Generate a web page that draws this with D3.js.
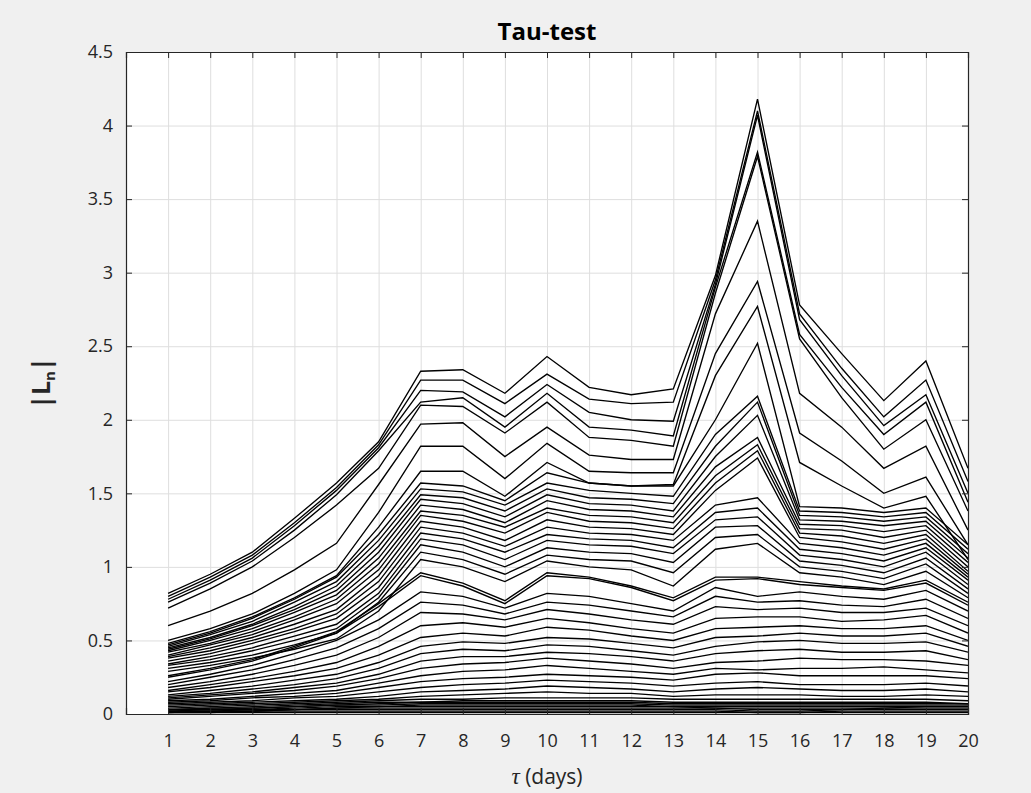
<!DOCTYPE html>
<html>
<head>
<meta charset="utf-8">
<script src="https://cdn.jsdelivr.net/npm/d3@7/dist/d3.min.js"></script>
<style>
  body { margin: 0; background: #f0f0f0; }
  svg { display: block; }
  .tick text { font-family: "Open Sans", sans-serif; font-size: 18px; fill: #262626; }
  .frame .domain, .frame line { stroke: #262626; }
  .grid line { stroke: #dedede; }
  .grid .domain { display: none; }
</style>
</head>
<body>
<div id="chart"></div>
<script>
// tau (days) and y tick values
var taus = [1, 2, 3, 4, 5, 6, 7, 8, 9, 10, 11, 12, 13, 14, 15, 16, 17, 18, 19, 20];
var yTicks = [0, 0.5, 1, 1.5, 2, 2.5, 3, 3.5, 4, 4.5];

// |Ln| curves, one row per curve (values at tau = 1..20)
// top bundle, the ones that reach ~4 at tau 15
var topLines = [
  [0.82,0.95,1.10,1.33,1.57,1.85,2.33,2.34,2.18,2.43,2.22,2.17,2.21,2.98,4.18,2.78,2.45,2.13,2.40,1.67],
  [0.80,0.93,1.08,1.30,1.54,1.83,2.27,2.27,2.11,2.31,2.14,2.11,2.12,2.95,4.10,2.72,2.35,2.02,2.27,1.58],
  [0.78,0.91,1.06,1.28,1.52,1.81,2.20,2.19,2.02,2.24,2.05,2.00,1.99,2.92,4.07,2.68,2.30,1.96,2.17,1.50],
  [0.76,0.89,1.04,1.25,1.49,1.79,2.12,2.15,1.95,2.18,1.95,1.93,1.89,2.90,3.82,2.58,2.22,1.90,2.12,1.44],
  [0.72,0.85,1.00,1.20,1.42,1.67,2.10,2.09,1.91,2.12,1.88,1.86,1.82,2.86,3.79,2.55,2.15,1.80,2.00,1.38]
];

// second bundle, peaks 2.8 - 3.4
var peakLines = [
  [0.60,0.70,0.82,0.98,1.16,1.56,1.97,1.98,1.75,1.95,1.76,1.73,1.73,2.72,3.35,2.18,1.95,1.67,1.82,1.25],
  [0.50,0.58,0.68,0.82,0.98,1.37,1.82,1.82,1.60,1.84,1.65,1.64,1.64,2.45,2.94,1.91,1.72,1.50,1.61,1.15],
  [0.48,0.56,0.66,0.79,0.94,1.27,1.65,1.65,1.48,1.71,1.57,1.55,1.56,2.30,2.77,1.71,1.55,1.40,1.48,1.05]
];

// dense middle band
var midLines = [
  [0.47,0.55,0.65,0.78,0.93,1.22,1.57,1.55,1.45,1.64,1.57,1.55,1.55,2.00,2.52,1.41,1.40,1.37,1.40,1.15],
  [0.46,0.54,0.63,0.76,0.90,1.18,1.53,1.51,1.42,1.57,1.52,1.50,1.48,1.90,2.16,1.38,1.37,1.34,1.37,1.12],
  [0.45,0.52,0.61,0.73,0.87,1.14,1.49,1.47,1.38,1.53,1.47,1.46,1.43,1.82,2.12,1.35,1.34,1.31,1.34,1.09],
  [0.44,0.51,0.60,0.71,0.84,1.10,1.46,1.43,1.34,1.49,1.43,1.42,1.38,1.75,2.03,1.32,1.31,1.28,1.31,1.06],
  [0.43,0.50,0.58,0.69,0.81,1.06,1.42,1.39,1.30,1.45,1.39,1.38,1.34,1.68,1.88,1.29,1.28,1.24,1.28,1.03],
  [0.42,0.48,0.56,0.66,0.78,1.02,1.38,1.35,1.27,1.40,1.35,1.34,1.30,1.62,1.83,1.26,1.25,1.20,1.25,1.00],
  [0.40,0.47,0.54,0.64,0.75,0.98,1.35,1.31,1.23,1.37,1.31,1.30,1.26,1.57,1.79,1.23,1.21,1.16,1.22,0.97],
  [0.39,0.45,0.52,0.61,0.71,0.94,1.31,1.27,1.18,1.32,1.27,1.26,1.22,1.52,1.74,1.20,1.17,1.12,1.19,0.95],
  [0.38,0.43,0.50,0.58,0.68,0.90,1.27,1.23,1.14,1.27,1.23,1.22,1.18,1.42,1.47,1.16,1.13,1.08,1.16,0.93],
  [0.36,0.41,0.48,0.56,0.65,0.86,1.23,1.19,1.10,1.22,1.19,1.18,1.13,1.37,1.40,1.12,1.09,1.04,1.13,0.91],
  [0.34,0.39,0.45,0.53,0.61,0.82,1.19,1.15,1.05,1.18,1.15,1.14,1.09,1.32,1.34,1.08,1.05,1.00,1.10,0.88],
  [0.33,0.37,0.43,0.50,0.58,0.79,1.15,1.10,1.00,1.13,1.10,1.09,1.03,1.27,1.28,1.04,1.01,0.96,1.06,0.85],
  [0.31,0.35,0.40,0.47,0.55,0.76,1.10,1.05,0.95,1.08,1.05,1.04,0.96,1.20,1.22,1.00,0.97,0.92,1.02,0.82],
  [0.29,0.33,0.38,0.44,0.51,0.70,1.05,1.00,0.90,1.04,1.00,0.98,0.87,1.12,1.16,0.96,0.93,0.88,0.97,0.79]
];

// the pair that shows up as one thick line near 0.9
var thickLines = [
  [0.26,0.31,0.37,0.46,0.56,0.75,0.96,0.89,0.77,0.96,0.93,0.87,0.79,0.93,0.93,0.90,0.87,0.85,0.91,0.76],
  [0.25,0.30,0.36,0.45,0.55,0.73,0.94,0.87,0.75,0.94,0.92,0.86,0.77,0.91,0.92,0.88,0.86,0.84,0.89,0.74]
];

// lower flatter curves
var lowLines = [
  [0.22,0.27,0.33,0.41,0.50,0.64,0.83,0.80,0.72,0.82,0.80,0.75,0.70,0.86,0.80,0.83,0.80,0.78,0.84,0.70],
  [0.20,0.25,0.30,0.37,0.45,0.58,0.76,0.74,0.68,0.76,0.74,0.70,0.66,0.80,0.76,0.77,0.74,0.73,0.78,0.65],
  [0.18,0.22,0.27,0.33,0.40,0.52,0.69,0.68,0.64,0.71,0.68,0.64,0.61,0.73,0.71,0.72,0.69,0.69,0.72,0.60],
  [0.16,0.20,0.24,0.29,0.35,0.46,0.60,0.62,0.59,0.65,0.62,0.58,0.55,0.65,0.66,0.66,0.63,0.64,0.67,0.55],
  [0.15,0.18,0.22,0.26,0.31,0.40,0.52,0.55,0.53,0.59,0.57,0.53,0.50,0.58,0.59,0.60,0.58,0.58,0.60,0.50],
  [0.13,0.16,0.19,0.23,0.27,0.35,0.46,0.49,0.48,0.52,0.51,0.48,0.45,0.52,0.53,0.55,0.53,0.53,0.55,0.46],
  [0.12,0.14,0.17,0.20,0.24,0.31,0.41,0.44,0.43,0.47,0.46,0.43,0.40,0.46,0.49,0.50,0.48,0.48,0.49,0.42],
  [0.11,0.13,0.15,0.18,0.21,0.27,0.36,0.39,0.39,0.42,0.41,0.39,0.36,0.41,0.43,0.44,0.42,0.42,0.43,0.37],
  [0.10,0.12,0.14,0.16,0.19,0.24,0.31,0.34,0.35,0.38,0.36,0.34,0.31,0.35,0.36,0.38,0.37,0.37,0.36,0.33],
  [0.09,0.10,0.12,0.14,0.16,0.21,0.26,0.29,0.30,0.33,0.31,0.29,0.27,0.31,0.30,0.31,0.31,0.32,0.30,0.28],
  [0.08,0.09,0.11,0.12,0.14,0.18,0.22,0.24,0.25,0.27,0.26,0.25,0.23,0.27,0.28,0.26,0.26,0.26,0.26,0.24],
  [0.07,0.08,0.09,0.11,0.12,0.15,0.18,0.20,0.21,0.23,0.22,0.21,0.19,0.21,0.22,0.20,0.20,0.20,0.21,0.19],
  [0.06,0.07,0.08,0.09,0.10,0.12,0.15,0.16,0.17,0.19,0.18,0.17,0.15,0.17,0.18,0.17,0.16,0.16,0.17,0.15],
  [0.05,0.06,0.07,0.08,0.09,0.10,0.12,0.13,0.14,0.15,0.14,0.14,0.12,0.13,0.13,0.13,0.12,0.12,0.13,0.12],
  [0.04,0.05,0.06,0.07,0.08,0.09,0.10,0.10,0.11,0.11,0.11,0.11,0.10,0.10,0.10,0.10,0.10,0.10,0.10,0.09],
  [0.03,0.04,0.05,0.06,0.07,0.08,0.08,0.09,0.09,0.09,0.09,0.09,0.08,0.08,0.08,0.08,0.08,0.08,0.08,0.07]
];

// near-zero curves that make the black band on the floor
var floorLines = [
  [0.03,0.04,0.04,0.05,0.06,0.07,0.08,0.08,0.08,0.08,0.08,0.08,0.07,0.07,0.07,0.07,0.07,0.07,0.07,0.07],
  [0.03,0.03,0.04,0.05,0.06,0.06,0.07,0.07,0.07,0.07,0.07,0.07,0.06,0.06,0.06,0.06,0.06,0.06,0.06,0.06],
  [0.02,0.03,0.03,0.04,0.05,0.05,0.06,0.06,0.06,0.06,0.06,0.06,0.05,0.05,0.05,0.05,0.05,0.05,0.05,0.05],
  [0.02,0.02,0.03,0.03,0.04,0.05,0.05,0.05,0.05,0.05,0.05,0.05,0.05,0.04,0.04,0.04,0.04,0.04,0.05,0.05],
  [0.02,0.02,0.02,0.03,0.04,0.04,0.04,0.04,0.04,0.04,0.04,0.04,0.04,0.04,0.03,0.03,0.03,0.04,0.04,0.04],
  [0.01,0.02,0.02,0.03,0.03,0.03,0.03,0.03,0.03,0.03,0.03,0.03,0.03,0.03,0.02,0.02,0.03,0.03,0.03,0.03],
  [0.01,0.01,0.02,0.02,0.02,0.02,0.02,0.02,0.02,0.02,0.02,0.02,0.02,0.02,0.01,0.01,0.02,0.02,0.02,0.02],
  [0.01,0.01,0.01,0.01,0.01,0.01,0.01,0.01,0.01,0.01,0.01,0.01,0.01,0.01,0.01,0.01,0.01,0.01,0.01,0.01]
];

var allLines = topLines.concat(peakLines, midLines, thickLines, lowLines, floorLines);

// svg + margins (matlab style figure)
var svgWidth = 1031;
var svgHeight = 793;
var margin = { top: 52, right: 63, bottom: 79, left: 126 };
var width = svgWidth - margin.left - margin.right;
var height = svgHeight - margin.top - margin.bottom;

var svg = d3.select("#chart")
  .append("svg")
  .attr("width", svgWidth)
  .attr("height", svgHeight);

svg.append("rect")
  .attr("width", svgWidth)
  .attr("height", svgHeight)
  .attr("fill", "#f0f0f0");

var chartGroup = svg.append("g")
  .attr("transform", `translate(${margin.left}, ${margin.top})`);

// scales
var xScale = d3.scaleLinear().domain([0, 20]).range([0, width]);
var yScale = d3.scaleLinear().domain([0, 4.5]).range([height, 0]);

// white axes background
chartGroup.append("rect")
  .attr("width", width)
  .attr("height", height)
  .attr("fill", "#ffffff");

// grid lines
chartGroup.append("g")
  .attr("class", "grid")
  .attr("transform", `translate(0, ${height})`)
  .call(d3.axisBottom(xScale).tickValues(taus).tickSize(-height).tickFormat(""));

chartGroup.append("g")
  .attr("class", "grid")
  .call(d3.axisLeft(yScale).tickValues(yTicks).tickSize(-width).tickFormat(""));

// clip so nothing leaks out of the box
chartGroup.append("clipPath")
  .attr("id", "plotClip")
  .append("rect")
  .attr("width", width)
  .attr("height", height);

var line = d3.line()
  .x((d, i) => xScale(taus[i]))
  .y(d => yScale(d));

chartGroup.append("g")
  .attr("clip-path", "url(#plotClip)")
  .selectAll("path")
  .data(allLines)
  .enter()
  .append("path")
  .attr("d", line)
  .attr("fill", "none")
  .attr("stroke", "#000000")
  .attr("stroke-width", 1.35);

// axes, ticks point inwards like matlab
var bottomAxis = d3.axisBottom(xScale).tickValues(taus).tickSize(-6).tickPadding(20);
var leftAxis = d3.axisLeft(yScale).tickValues(yTicks).tickSize(-6).tickPadding(13)
  .tickFormat(d3.format("~g"));

chartGroup.append("g")
  .attr("class", "frame")
  .attr("transform", `translate(0, ${height})`)
  .call(bottomAxis)
  .call(g => g.selectAll(".tick text").attr("dy", "0.71em"));

chartGroup.append("g")
  .attr("class", "frame")
  .call(leftAxis);

chartGroup.append("g")
  .attr("class", "frame")
  .call(d3.axisTop(xScale).tickValues(taus).tickSize(-6).tickFormat(""));

chartGroup.append("g")
  .attr("class", "frame")
  .attr("transform", `translate(${width}, 0)`)
  .call(d3.axisRight(yScale).tickValues(yTicks).tickSize(-6).tickFormat(""));

chartGroup.selectAll(".frame .domain").attr("stroke-width", 1.2);

// title
svg.append("text")
  .attr("x", margin.left + width / 2)
  .attr("y", 40)
  .attr("text-anchor", "middle")
  .attr("font-family", "Open Sans, sans-serif")
  .attr("font-weight", "bold")
  .attr("font-size", 24)
  .attr("fill", "#000")
  .text("Tau-test");

// x label
var xLabel = svg.append("text")
  .attr("x", margin.left + width / 2)
  .attr("y", 784)
  .attr("text-anchor", "middle")
  .attr("font-family", "Open Sans, sans-serif")
  .attr("font-size", 21)
  .attr("fill", "#262626");
xLabel.append("tspan")
  .attr("font-family", "Liberation Serif, serif")
  .attr("font-style", "italic")
  .attr("font-size", 23)
  .text("\u03c4");
xLabel.append("tspan").text(" (days)");

// y label |L_n|
var yLabel = svg.append("text")
  .attr("transform", `translate(50, ${margin.top + height / 2}) rotate(-90)`)
  .attr("text-anchor", "middle")
  .attr("font-family", "Open Sans, sans-serif")
  .attr("font-weight", "bold")
  .attr("font-size", 25)
  .attr("fill", "#262626");
yLabel.append("tspan").text("|L");
yLabel.append("tspan").attr("font-size", 15).attr("dy", 5).text("n");
yLabel.append("tspan").attr("dy", -5).text("|");
</script>
</body>
</html>
